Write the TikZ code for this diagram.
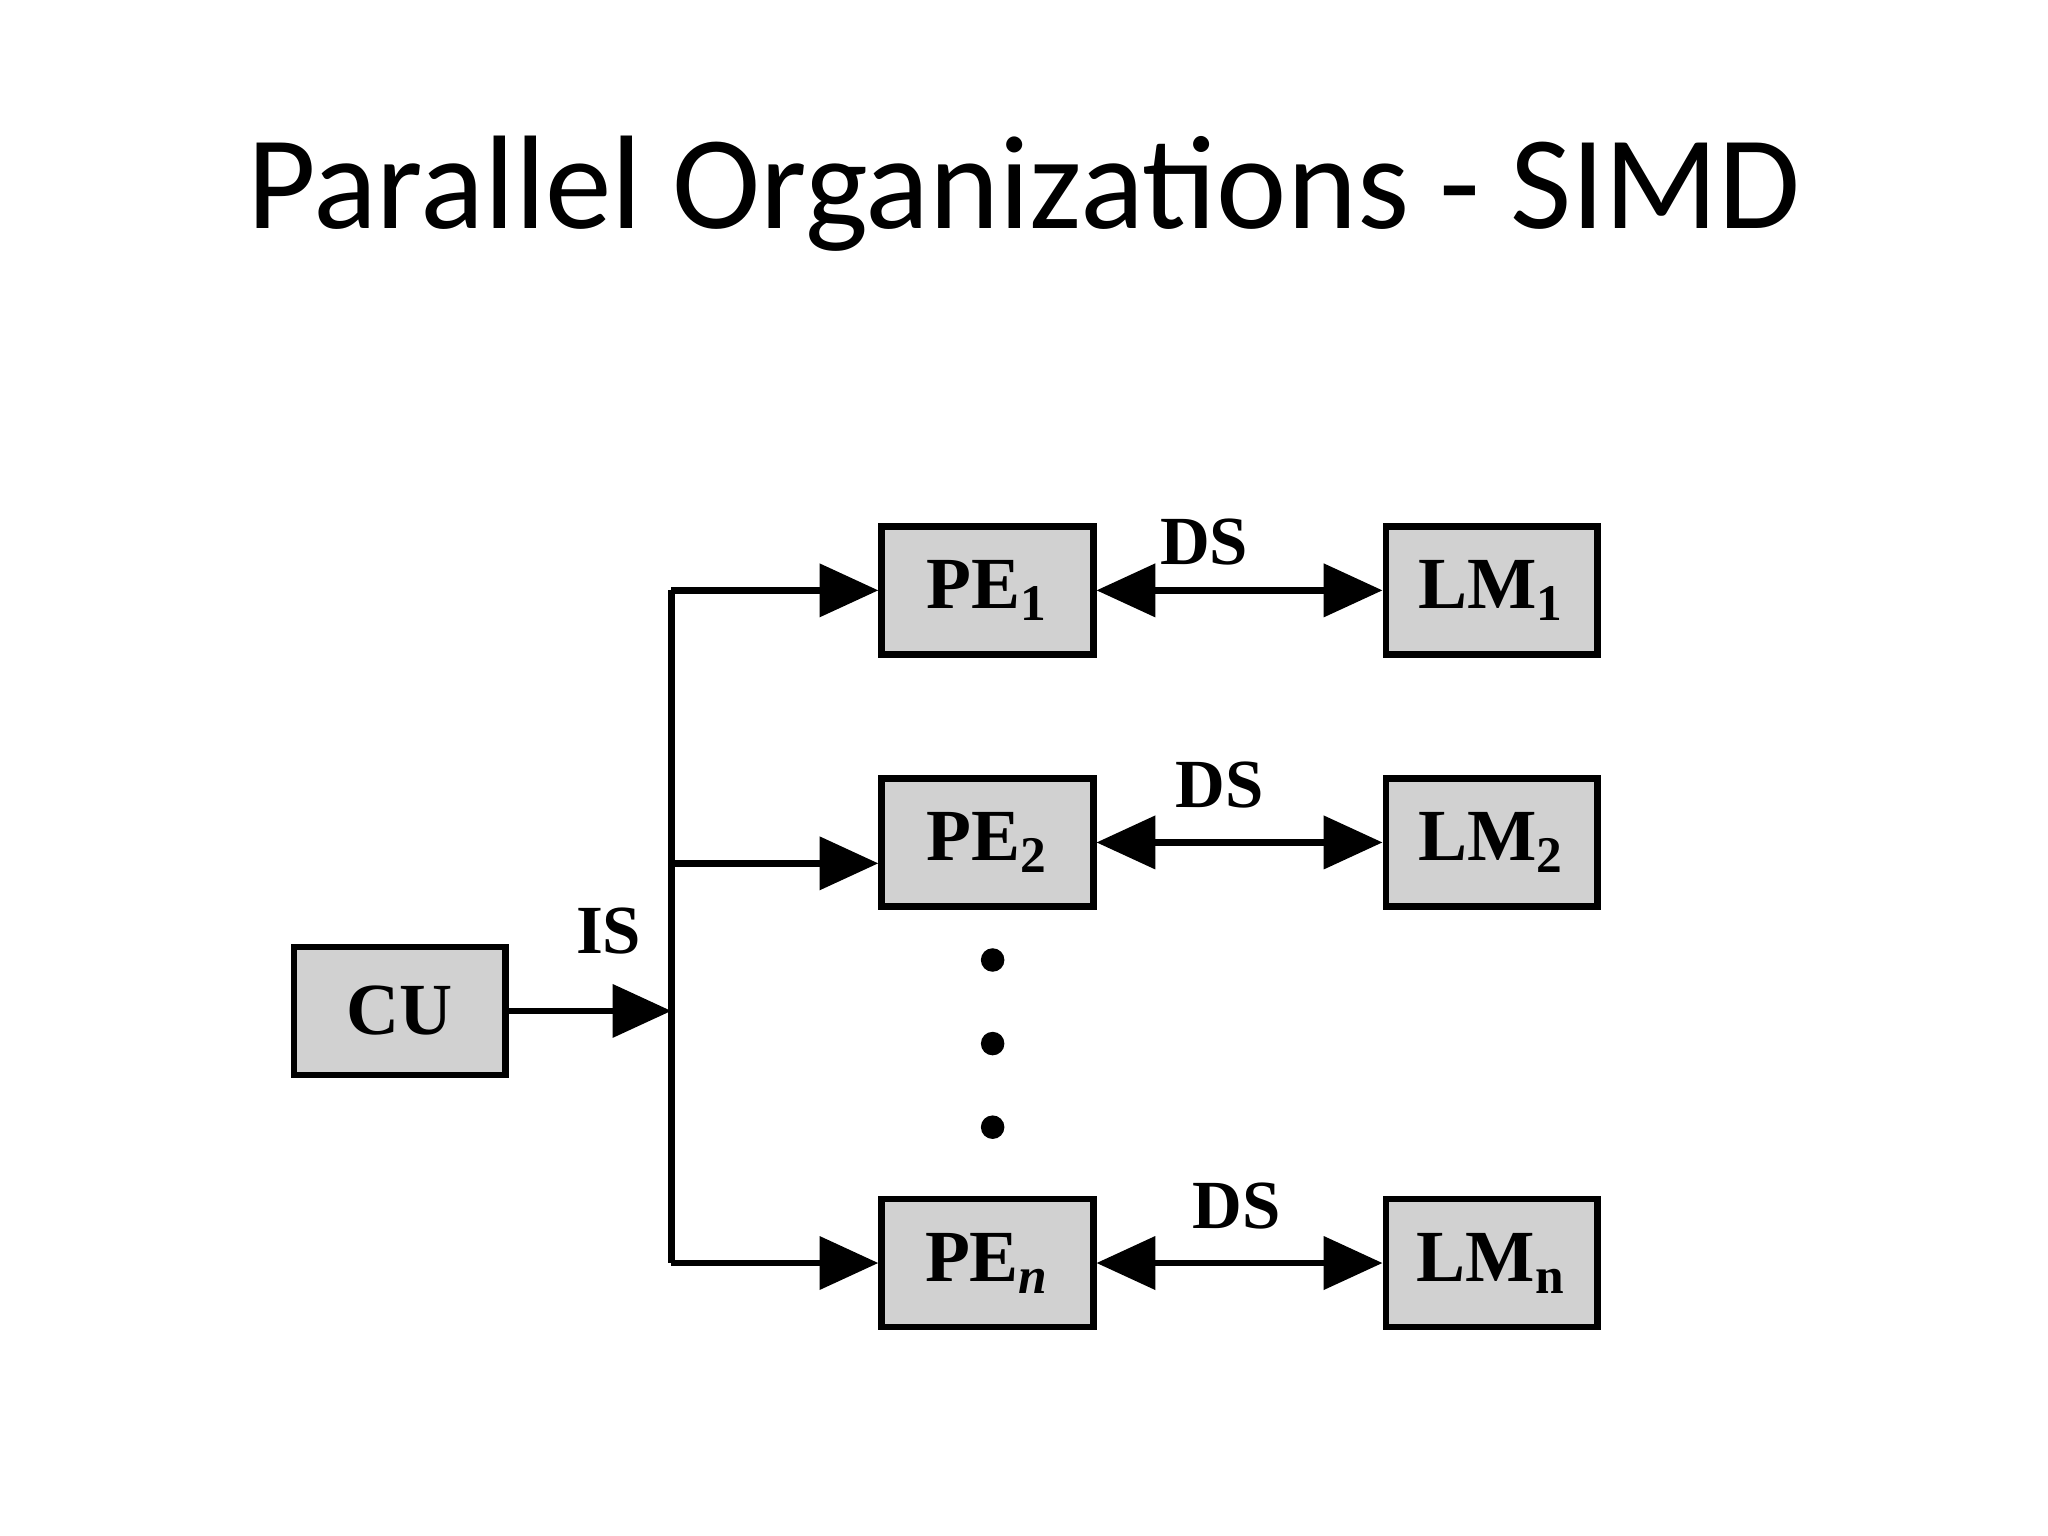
\documentclass[tikz,border=0pt]{standalone}
\usepackage{fontspec}
\setmainfont{Liberation Serif}
\newfontfamily\titlefont{Carlito}
\usetikzlibrary{arrows.meta}
\begin{document}
\begin{tikzpicture}[x=0.01cm,y=-0.01cm,
  box/.style={draw,line width=1.4pt,fill=black!18,minimum width=1.62cm,minimum height=0.98cm,inner sep=0pt,font=\bfseries\fontsize{16}{18}\selectfont},
  lbl/.style={font=\bfseries\fontsize{15}{17}\selectfont,inner sep=0pt},
  con/.style={line width=1.4pt},
  tip/.style={-{Triangle[length=0.45cm,width=0.4cm]}},
  dtip/.style={{Triangle[length=0.45cm,width=0.4cm]}-{Triangle[length=0.45cm,width=0.4cm]}}]
\useasboundingbox (0,0) rectangle (1568,1176);
\node[font=\titlefont\fontsize{29}{34}\selectfont] (title) at (784,148) {Parallel Organizations - SIMD};
\node[box] (cu) at (306,774) {CU};
\node[box] (pe1) at (756,452) {PE\textsubscript{1}};
\node[box] (pe2) at (756,645) {PE\textsubscript{2}};
\node[box] (pen) at (756,967) {PE\textsubscript{\itshape n}};
\node[box] (lm1) at (1142,452) {LM\textsubscript{1}};
\node[box] (lm2) at (1142,645) {LM\textsubscript{2}};
\node[box] (lmn) at (1142,967) {LM\textsubscript{n}};
\coordinate (btop) at (514,452);
\coordinate (bmid) at (514,661);
\coordinate (bcu) at (514,774);
\coordinate (bbot) at (514,967);
\draw[con] (btop) -- (bbot);
\draw[con,tip] (cu) -- (bcu);
\draw[con,tip] (btop) -- (pe1);
\draw[con,tip] (bmid) -- (bmid -| pe2.west);
\draw[con,tip] (bbot) -- (pen);
\draw[con,dtip] (pe1) -- (lm1);
\draw[con,dtip] (pe2) -- (lm2);
\draw[con,dtip] (pen) -- (lmn);
\node[lbl] (is) at (466,713) {IS};
\node[lbl] (ds1) at (922,415) {DS};
\node[lbl] (ds2) at (934,601) {DS};
\node[lbl] (ds3) at (947,923) {DS};
\foreach \y in {735,799,863}
  \fill (760,\y) circle (0.09cm);
\end{tikzpicture}
\end{document}
